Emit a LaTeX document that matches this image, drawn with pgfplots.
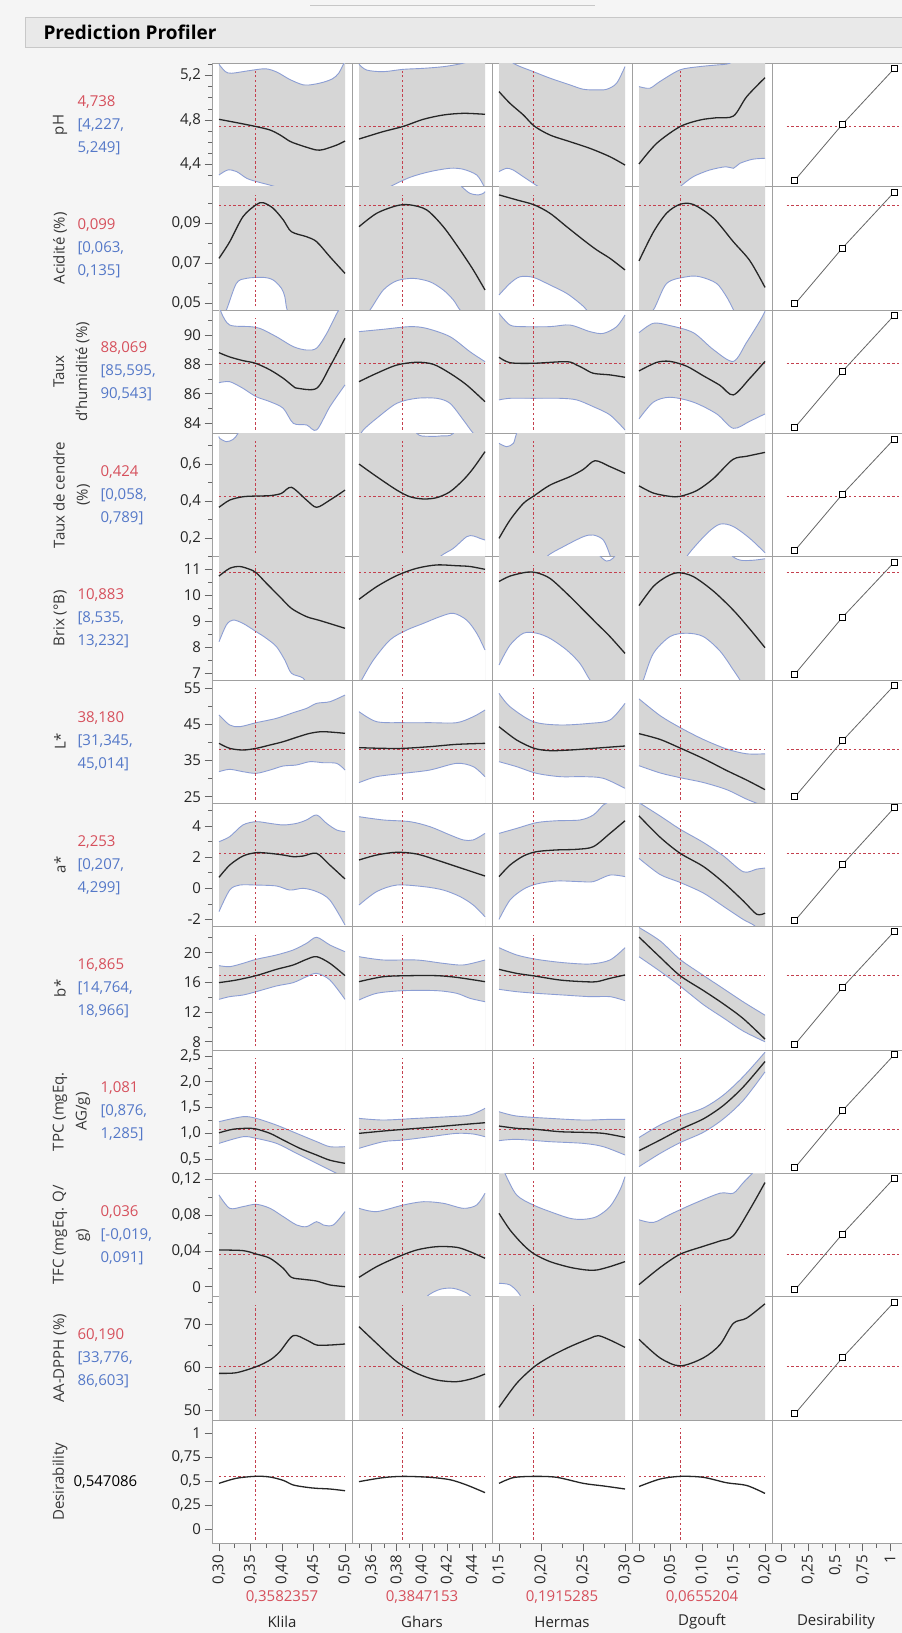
\documentclass[border=0pt]{standalone}
\usepackage{fontspec}
\setmainfont{Open Sans}
\usepackage{pgfplots}
\pgfplotsset{compat=1.18}
\definecolor{bg}{RGB}{245,245,245}
\definecolor{titlebg}{RGB}{233,233,233}
\definecolor{titleborder}{RGB}{200,200,200}
\definecolor{border}{RGB}{160,160,160}
\definecolor{bandgray}{RGB}{214,214,214}
\definecolor{bandedge}{RGB}{140,158,212}
\definecolor{xred}{RGB}{196,64,78}
\definecolor{valred}{RGB}{214,80,92}
\definecolor{valblue}{RGB}{84,120,200}
\definecolor{labelgray}{RGB}{55,55,55}
\newcommand\tk{\fontsize{15}{18}\selectfont}
\newcommand\lb{\fontsize{15}{23}\selectfont}
\newcommand\vl{\fontsize{15}{23}\selectfont}
\newcommand\ttl{\fontsize{19}{22}\selectfont\bfseries}
\tikzset{xh/.style={draw=xred, line width=0.9pt, dash pattern=on 2.4pt off 2.4pt}}
\pgfplotsset{
 cell/.style={scale only axis, width=140pt, height=123.33pt, anchor=north west,
  axis background/.style={fill=white},
  axis line style={draw=border, line width=0.9pt},
  xtick=\empty, ytick=\empty, clip=true,
  tick style={draw=black!60, line width=0.7pt},
  major tick length=8pt, minor tick length=4.5pt, tick align=outside,
  ticklabel style={font=\tk, text=black!85},
  ytick pos=left, xtick pos=bottom,
  xticklabel style={rotate=90, anchor=east}},
 band/.style={draw=bandedge, line width=0.9pt, smooth},
 mean/.style={draw=black!85, line width=1.3pt, smooth},
 dfun/.style={draw=black!60, line width=0.8pt, mark=square*, mark size=3pt, mark options={draw=black, fill=white, line width=1pt}},
 c1/.style={xmin=0.28968, xmax=0.51190},
 c2/.style={xmin=0.34484, xmax=0.45595},
 c3/.style={xmin=0.14226, xmax=0.30893},
 c4/.style={xmin=-0.01032, xmax=0.21190},
 c5/.style={xmin=-0.078, xmax=1.206},
 r1/.style={ymin=4.201, ymax=5.309},
 r2/.style={ymin=0.0467, ymax=0.1083},
 r3/.style={ymin=83.31, ymax=91.69},
 r4/.style={ymin=0.099, ymax=0.766},
 r5/.style={ymin=6.73, ymax=11.50},
 r6/.style={ymin=23.15, ymax=57.31},
 r7/.style={ymin=-2.456, ymax=5.445},
 r8/.style={ymin=6.88, ymax=23.5},
 r9/.style={ymin=0.226, ymax=2.613},
 r10/.style={ymin=-0.0112, ymax=0.1267},
 r11/.style={ymin=47.8, ymax=76.37},
 r12/.style={ymin=-0.15, ymax=1.139},
 y1/.style={ytick={4.4,4.8,5.2}, yticklabels={{4,4},{4,8},{5,2}}, minor ytick={4.3,4.5,4.6,4.7,4.9,5.0,5.1,5.3}},
 y2/.style={ytick={0.05,0.07,0.09}, yticklabels={{0,05},{0,07},{0,09}}, minor ytick={0.06,0.08,0.10}},
 y3/.style={ytick={84,86,88,90}, yticklabels={84,86,88,90}, minor ytick={85,87,89,91}},
 y4/.style={ytick={0.2,0.4,0.6}, yticklabels={{0,2},{0,4},{0,6}}, minor ytick={0.1,0.3,0.5,0.7}},
 y5/.style={ytick={7,8,9,10,11}, yticklabels={7,8,9,10,11}, minor ytick={7.5,8.5,9.5,10.5}},
 y6/.style={ytick={25,35,45,55}, yticklabels={25,35,45,55}, minor ytick={30,40,50}},
 y7/.style={ytick={-2,0,2,4}, yticklabels={-2,0,2,4}, minor ytick={-1,1,3,5}},
 y8/.style={ytick={8,12,16,20}, yticklabels={8,12,16,20}, minor ytick={10,14,18,22}},
 y9/.style={ytick={0.5,1,1.5,2,2.5}, yticklabels={{0,5},{1,0},{1,5},{2,0},{2,5}}, minor ytick={0.75,1.25,1.75,2.25}},
 y10/.style={ytick={0,0.04,0.08,0.12}, yticklabels={{0},{0,04},{0,08},{0,12}}, minor ytick={0.02,0.06,0.10}},
 y11/.style={ytick={50,60,70}, yticklabels={50,60,70}, minor ytick={55,65,75}},
 y12/.style={ytick={0,0.25,0.5,0.75,1}, yticklabels={{0},{0,25},{0,5},{0,75},{1}}},
 x1/.style={xtick={0.30,0.35,0.40,0.45,0.50}, xticklabels={{0,30},{0,35},{0,40},{0,45},{0,50}}, minor xtick={0.325,0.375,0.425,0.475}},
 x2/.style={xtick={0.36,0.38,0.40,0.42,0.44}, xticklabels={{0,36},{0,38},{0,40},{0,42},{0,44}}, minor xtick={0.35,0.37,0.39,0.41,0.43,0.45}},
 x3/.style={xtick={0.15,0.20,0.25,0.30}, xticklabels={{0,15},{0,20},{0,25},{0,30}}, minor xtick={0.175,0.225,0.275}},
 x4/.style={xtick={0,0.05,0.10,0.15,0.20}, xticklabels={{0},{0,05},{0,10},{0,15},{0,20}}, minor xtick={0.025,0.075,0.125,0.175}},
 x5/.style={xtick={0,0.25,0.5,0.75,1}, xticklabels={{0},{0,25},{0,5},{0,75},{1}}, minor xtick={0.125,0.375,0.625,0.875}},
}
% #1 = first x of the factor range, #2 = upper limit curve, #3 = lower limit curve
\newcommand\bnd[3]{%
 \addplot[fill=bandgray, draw=none, smooth] coordinates {#2} |- ({axis cs:#1,0}|-{rel axis cs:0,-1}) -- cycle;
 \addplot[fill=white, draw=none, smooth] coordinates {#3} |- ({axis cs:#1,0}|-{rel axis cs:0,-1}) -- cycle;
 \addplot[band] coordinates {#2};
 \addplot[band] coordinates {#3};}
\newcommand\mn[1]{\addplot[mean] coordinates {#1};}
\newcommand\vx[1]{\draw[xh] ({axis cs:#1,0}|-{rel axis cs:0,0.03}) -- ({axis cs:#1,0}|-{rel axis cs:0,0.935});}
\newcommand\hy[3]{\addplot[xh] coordinates {(#1,#3)(#2,#3)};}
\newcommand\des[2]{\hy{0.052}{1.25}{#1}\addplot[dfun] coordinates {#2};}
\begin{document}
\begin{tikzpicture}
\fill[bg] (0,0) rectangle (902pt,-1633pt);
\draw[black!22, line width=1pt] (310pt,-5pt) -- (595pt,-5pt);
\draw[fill=titlebg, draw=titleborder, line width=0.8pt] (25pt,-17pt) rectangle (906pt,-47pt);
\node[anchor=west, font=\ttl] at (40pt,-32pt) {Prediction Profiler};

% ---------- Row 1 pH
\begin{axis}[cell,c1,r1,y1,at={(212.5pt,-63.33pt)}]
\bnd{0.30}{(0.30,5.30)(0.31,5.235)(0.32,5.22)(0.35,5.245)(0.374,5.26)(0.392,5.23)(0.412,5.165)(0.434,5.115)(0.45,5.12)(0.466,5.14)(0.48,5.17)(0.49,5.22)(0.50,5.33)}{(0.30,4.306)(0.314,4.351)(0.328,4.336)(0.344,4.276)(0.36,4.246)(0.38,4.216)(0.396,4.186)(0.42,4.10)(0.45,4.05)(0.50,4.05)}
\hy{0.30}{0.50}{4.738}\vx{0.3582357}
\mn{(0.30,4.806)(0.328,4.776)(0.358,4.742)(0.381,4.71)(0.397,4.665)(0.412,4.61)(0.423,4.585)(0.439,4.555)(0.455,4.53)(0.466,4.535)(0.487,4.575)(0.50,4.611)}
\end{axis}
\begin{axis}[cell,c2,r1,at={(352.5pt,-63.33pt)}]
\bnd{0.35}{(0.35,5.30)(0.356,5.249)(0.369,5.234)(0.385,5.255)(0.401,5.264)(0.417,5.279)(0.43,5.303)(0.436,5.32)(0.45,5.40)}{(0.35,4.05)(0.36,4.10)(0.3746,4.20)(0.3905,4.285)(0.4063,4.336)(0.4222,4.366)(0.4328,4.357)(0.4434,4.306)(0.4487,4.216)(0.45,4.19)}
\hy{0.35}{0.45}{4.738}\vx{0.3847153}
\mn{(0.35,4.629)(0.369,4.695)(0.385,4.742)(0.401,4.806)(0.417,4.845)(0.433,4.86)(0.45,4.851)}
\end{axis}
\begin{axis}[cell,c3,r1,at={(492.5pt,-63.33pt)}]
\bnd{0.15}{(0.15,5.50)(0.16,5.40)(0.167,5.31)(0.191,5.234)(0.211,5.175)(0.2345,5.115)(0.2504,5.076)(0.2663,5.07)(0.2782,5.076)(0.290,5.13)(0.30,5.28)}{(0.15,4.336)(0.159,4.366)(0.167,4.35)(0.179,4.29)(0.191,4.23)(0.197,4.20)(0.21,4.10)(0.23,4.05)(0.30,4.05)}
\hy{0.15}{0.30}{4.738}\vx{0.1915285}
\mn{(0.15,5.055)(0.163,4.95)(0.179,4.845)(0.192,4.745)(0.2107,4.665)(0.2345,4.605)(0.2583,4.545)(0.2821,4.47)(0.30,4.395)}
\end{axis}
\begin{axis}[cell,c4,r1,at={(632.5pt,-63.33pt)}]
\bnd{0}{(0,5.10)(0.017,5.085)(0.033,5.145)(0.065,5.25)(0.097,5.28)(0.123,5.294)(0.144,5.31)(0.17,5.40)(0.20,5.45)}{(0,4.05)(0.04,4.08)(0.065,4.20)(0.086,4.29)(0.112,4.35)(0.138,4.38)(0.150,4.366)(0.160,4.41)(0.180,4.447)(0.20,4.456)}
\hy{0}{0.20}{4.738}\vx{0.0655204}
\mn{(0,4.405)(0.028,4.59)(0.065,4.74)(0.097,4.80)(0.123,4.82)(0.150,4.836)(0.171,5.01)(0.20,5.18)}
\end{axis}
\begin{axis}[cell,c5,r1,at={(772.5pt,-63.33pt)}]
\des{4.738}{(0.128,4.26)(0.562,4.76)(1.037,5.26)}
\end{axis}

% ---------- Row 2 Acidite
\begin{axis}[cell,c1,r2,y2,at={(212.5pt,-186.67pt)}]
\bnd{0.30}{(0.30,0.12)(0.50,0.12)}{(0.30,0.04)(0.3117,0.0467)(0.3276,0.06)(0.3435,0.0625)(0.37,0.063)(0.386,0.0617)(0.3992,0.0575)(0.4045,0.0533)(0.4082,0.0467)(0.42,0.04)(0.50,0.04)}
\hy{0.30}{0.50}{0.099}\vx{0.3582357}
\mn{(0.30,0.0725)(0.317,0.0808)(0.338,0.0933)(0.359,0.0993)(0.37,0.1003)(0.386,0.0975)(0.402,0.0917)(0.415,0.0858)(0.439,0.0833)(0.455,0.0808)(0.476,0.0733)(0.50,0.065)}
\end{axis}
\begin{axis}[cell,c2,r2,at={(352.5pt,-186.67pt)}]
\bnd{0.35}{(0.35,0.115)(0.42,0.115)(0.4315,0.1083)(0.438,0.105)(0.4447,0.1042)(0.4487,0.105)(0.45,0.1058)}{(0.35,0.04)(0.3587,0.0467)(0.3693,0.0567)(0.38,0.0613)(0.3931,0.0625)(0.4063,0.0608)(0.4169,0.0567)(0.4249,0.0517)(0.4302,0.0467)(0.44,0.04)(0.45,0.04)}
\hy{0.35}{0.45}{0.099}\vx{0.3847153}
\mn{(0.35,0.0883)(0.364,0.095)(0.38,0.0988)(0.3905,0.0992)(0.4037,0.0967)(0.4169,0.0883)(0.4302,0.0767)(0.4407,0.0667)(0.45,0.0567)}
\end{axis}
\begin{axis}[cell,c3,r2,at={(492.5pt,-186.67pt)}]
\bnd{0.15}{(0.15,0.12)(0.30,0.12)}{(0.15,0.0542)(0.1631,0.06)(0.175,0.0633)(0.1909,0.063)(0.2107,0.0592)(0.2306,0.055)(0.2464,0.05)(0.2544,0.0467)(0.265,0.04)(0.30,0.04)}
\hy{0.15}{0.30}{0.099}\vx{0.1915285}
\mn{(0.15,0.1042)(0.171,0.1017)(0.192,0.0992)(0.2107,0.095)(0.2306,0.0883)(0.2504,0.0817)(0.2663,0.0767)(0.2821,0.0725)(0.30,0.0667)}
\end{axis}
\begin{axis}[cell,c4,r2,at={(632.5pt,-186.67pt)}]
\bnd{0}{(0,0.12)(0.20,0.12)}{(0,0.04)(0.0227,0.0467)(0.044,0.06)(0.0757,0.0633)(0.0968,0.0633)(0.123,0.06)(0.139,0.0533)(0.15,0.0467)(0.16,0.04)(0.20,0.04)}
\hy{0}{0.20}{0.099}\vx{0.0655204}
\mn{(0,0.0712)(0.0228,0.0856)(0.0439,0.0951)(0.0651,0.0995)(0.0862,0.0994)(0.118,0.0927)(0.1497,0.0808)(0.1762,0.0712)(0.20,0.058)}
\end{axis}
\begin{axis}[cell,c5,r2,at={(772.5pt,-186.67pt)}]
\des{0.099}{(0.128,0.0497)(0.562,0.0776)(1.037,0.1055)}
\end{axis}

% ---------- Row 3 Taux d'humidite
\begin{axis}[cell,c1,r3,y3,at={(212.5pt,-310pt)}]
\bnd{0.30}{(0.30,92.2)(0.3037,91.5)(0.317,90.67)(0.349,90.56)(0.365,90.44)(0.391,89.88)(0.418,89.2)(0.439,88.97)(0.455,89.1)(0.471,90.1)(0.487,91.46)(0.492,91.8)(0.50,92.5)}{(0.30,86.75)(0.317,86.82)(0.338,86.37)(0.359,85.8)(0.381,85.46)(0.402,85.01)(0.418,83.99)(0.439,83.88)(0.455,83.54)(0.476,85.12)(0.50,86.6)}
\hy{0.30}{0.50}{88.069}\vx{0.3582357}
\mn{(0.30,88.79)(0.317,88.5)(0.338,88.25)(0.358,88.07)(0.381,87.62)(0.402,87.05)(0.418,86.5)(0.425,86.37)(0.455,86.37)(0.476,87.84)(0.50,89.77)}
\end{axis}
\begin{axis}[cell,c2,r3,at={(352.5pt,-310pt)}]
\bnd{0.35}{(0.35,90.22)(0.3693,90.38)(0.3905,90.56)(0.4037,90.44)(0.4222,89.88)(0.438,88.86)(0.45,88.18)}{(0.35,83.0)(0.3534,83.54)(0.364,84.33)(0.38,85.35)(0.3958,85.69)(0.4116,85.69)(0.4222,85.35)(0.4328,84.22)(0.4407,83.31)(0.45,82.5)}
\hy{0.35}{0.45}{88.069}\vx{0.3847153}
\mn{(0.35,86.82)(0.364,87.39)(0.38,87.95)(0.3958,88.14)(0.409,88.0)(0.4222,87.39)(0.4354,86.6)(0.45,85.46)}
\end{axis}
\begin{axis}[cell,c3,r3,at={(492.5pt,-310pt)}]
\bnd{0.15}{(0.15,91.46)(0.1631,90.67)(0.179,90.56)(0.2107,90.56)(0.2345,90.67)(0.2583,90.22)(0.2742,90.1)(0.2901,90.56)(0.30,91.35)}{(0.15,85.58)(0.1631,85.69)(0.1909,85.69)(0.2226,85.69)(0.2425,85.58)(0.2623,85.12)(0.2821,84.56)(0.30,83.54)}
\hy{0.15}{0.30}{88.069}\vx{0.1915285}
\mn{(0.15,88.48)(0.1631,88.11)(0.1909,88.07)(0.2306,88.18)(0.2425,87.95)(0.2504,87.73)(0.2623,87.39)(0.2821,87.28)(0.30,87.12)}
\end{axis}
\begin{axis}[cell,c4,r3,at={(632.5pt,-310pt)}]
\bnd{0}{(0,90.15)(0.0228,90.79)(0.0492,90.63)(0.0862,90.15)(0.118,89.0)(0.1497,88.2)(0.1709,89.5)(0.192,90.95)(0.20,91.6)}{(0,84.29)(0.0228,85.43)(0.0492,85.76)(0.0862,85.43)(0.1233,84.63)(0.1497,83.65)(0.1762,84.14)(0.20,84.63)}
\hy{0}{0.20}{88.069}\vx{0.0655204}
\mn{(0,87.55)(0.028,88.13)(0.0492,88.2)(0.0757,87.87)(0.1021,87.22)(0.1286,86.57)(0.1497,85.92)(0.1762,87.06)(0.20,88.2)}
\end{axis}
\begin{axis}[cell,c5,r3,at={(772.5pt,-310pt)}]
\des{88.069}{(0.128,83.71)(0.562,87.51)(1.037,91.32)}
\end{axis}

% ---------- Row 4 Taux de cendre
\begin{axis}[cell,c1,r4,y4,at={(212.5pt,-433.33pt)}]
\bnd{0.30}{(0.30,0.75)(0.301,0.739)(0.3117,0.721)(0.3223,0.733)(0.3302,0.766)(0.34,0.85)(0.50,0.9)}{(0.30,0.0)(0.50,0.0)}
\hy{0.30}{0.50}{0.424}\vx{0.3582357}
\mn{(0.30,0.366)(0.317,0.405)(0.338,0.423)(0.359,0.427)(0.381,0.429)(0.399,0.441)(0.415,0.474)(0.439,0.405)(0.455,0.366)(0.476,0.405)(0.50,0.459)}
\end{axis}
\begin{axis}[cell,c2,r4,at={(352.5pt,-433.33pt)}]
\bnd{0.35}{(0.35,0.95)(0.385,0.90)(0.3958,0.766)(0.405,0.75)(0.415,0.752)(0.4249,0.766)(0.435,0.90)(0.45,0.95)}{(0.35,0.0)(0.40,0.0)(0.4143,0.099)(0.4249,0.144)(0.4354,0.207)(0.4407,0.211)(0.446,0.198)(0.45,0.189)}
\hy{0.35}{0.45}{0.424}\vx{0.3847153}
\mn{(0.35,0.60)(0.364,0.532)(0.38,0.459)(0.3905,0.423)(0.4011,0.411)(0.4116,0.418)(0.4222,0.45)(0.4328,0.514)(0.4407,0.577)(0.45,0.667)}
\end{axis}
\begin{axis}[cell,c3,r4,at={(492.5pt,-433.33pt)}]
\bnd{0.15}{(0.15,0.712)(0.1591,0.694)(0.1671,0.712)(0.171,0.766)(0.18,0.85)(0.30,0.9)}{(0.15,0.0)(0.19,0.0)(0.2067,0.099)(0.2266,0.153)(0.2504,0.207)(0.2623,0.216)(0.2742,0.189)(0.2821,0.108)(0.29,0.0)(0.30,0.0)}
\hy{0.15}{0.30}{0.424}\vx{0.1915285}
\mn{(0.15,0.198)(0.1631,0.297)(0.179,0.387)(0.192,0.429)(0.2107,0.486)(0.2345,0.532)(0.2504,0.571)(0.2643,0.618)(0.2821,0.586)(0.30,0.55)}
\end{axis}
\begin{axis}[cell,c4,r4,at={(632.5pt,-433.33pt)}]
\bnd{0}{(0,0.9)(0.20,0.9)}{(0,0.0)(0.065,0.0)(0.0757,0.099)(0.1074,0.223)(0.1286,0.275)(0.1497,0.262)(0.1762,0.197)(0.20,0.12)}
\hy{0}{0.20}{0.424}\vx{0.0655204}
\mn{(0,0.482)(0.0228,0.443)(0.0492,0.425)(0.0651,0.425)(0.0915,0.456)(0.118,0.521)(0.1487,0.624)(0.1709,0.642)(0.20,0.663)}
\end{axis}
\begin{axis}[cell,c5,r4,at={(772.5pt,-433.33pt)}]
\des{0.424}{(0.128,0.133)(0.562,0.436)(1.037,0.735)}
\end{axis}

% ---------- Row 5 Brix
\begin{axis}[cell,c1,r5,y5,at={(212.5pt,-556.67pt)}]
\bnd{0.30}{(0.30,12.5)(0.50,12.5)}{(0.30,8.21)(0.3117,8.86)(0.3223,9.05)(0.338,8.92)(0.359,8.6)(0.3753,8.34)(0.3912,8.02)(0.4045,7.5)(0.415,6.99)(0.4337,6.8)(0.45,6.3)(0.50,6.3)}
\hy{0.30}{0.50}{10.883}\vx{0.3582357}
\mn{(0.30,10.75)(0.317,11.05)(0.3329,11.12)(0.3488,11.01)(0.359,10.88)(0.3753,10.47)(0.3965,9.95)(0.415,9.5)(0.439,9.18)(0.4602,9.03)(0.50,8.73)}
\end{axis}
\begin{axis}[cell,c2,r5,at={(352.5pt,-556.67pt)}]
\bnd{0.35}{(0.35,12.5)(0.45,12.5)}{(0.35,6.5)(0.3521,6.73)(0.3614,7.5)(0.3746,8.28)(0.3878,8.66)(0.4011,8.92)(0.4143,9.18)(0.4249,9.31)(0.4354,9.05)(0.4434,8.54)(0.45,7.89)}
\hy{0.35}{0.45}{10.883}\vx{0.3847153}
\mn{(0.35,9.85)(0.364,10.34)(0.38,10.77)(0.3958,11.05)(0.4116,11.18)(0.4275,11.15)(0.4381,11.12)(0.45,11.01)}
\end{axis}
\begin{axis}[cell,c3,r5,at={(492.5pt,-556.67pt)}]
\bnd{0.15}{(0.15,12.3)(0.25,12.3)(0.268,11.6)(0.278,11.33)(0.286,11.45)(0.293,11.8)(0.30,12.3)}{(0.15,7.31)(0.1631,8.08)(0.179,8.54)(0.1948,8.54)(0.2107,8.34)(0.2306,7.89)(0.2464,7.37)(0.2583,6.73)(0.27,6.3)(0.30,6.3)}
\hy{0.15}{0.30}{10.883}\vx{0.1915285}
\mn{(0.15,10.54)(0.1631,10.75)(0.1829,10.9)(0.1948,10.88)(0.2107,10.66)(0.2306,10.08)(0.2504,9.44)(0.2663,8.92)(0.2821,8.41)(0.30,7.76)}
\end{axis}
\begin{axis}[cell,c4,r5,at={(632.5pt,-556.67pt)}]
\bnd{0}{(0,12.3)(0.13,12.3)(0.145,11.6)(0.16,11.37)(0.18,11.36)(0.20,11.42)}{(0,6.3)(0.0069,6.73)(0.0228,7.76)(0.0492,8.41)(0.0757,8.54)(0.1021,8.41)(0.1286,7.85)(0.1497,7.12)(0.1603,6.73)(0.17,6.3)(0.20,6.3)}
\hy{0}{0.20}{10.883}\vx{0.0655204}
\mn{(0,9.61)(0.0228,10.35)(0.0439,10.73)(0.0624,10.88)(0.0862,10.73)(0.118,10.17)(0.1497,9.43)(0.1762,8.69)(0.20,7.98)}
\end{axis}
\begin{axis}[cell,c5,r5,at={(772.5pt,-556.67pt)}]
\des{10.883}{(0.128,6.96)(0.562,9.15)(1.037,11.28)}
\end{axis}

% ---------- Row 6 L*
\begin{axis}[cell,c1,r6,y6,at={(212.5pt,-680pt)}]
\bnd{0.30}{(0.30,47.62)(0.317,44.85)(0.3329,44.38)(0.359,45.49)(0.3912,46.69)(0.4178,48.26)(0.439,49.46)(0.455,50.85)(0.4761,51.31)(0.50,53.15)}{(0.30,31.92)(0.317,32.57)(0.338,31.92)(0.359,31.46)(0.381,32.38)(0.402,33.49)(0.423,33.77)(0.4443,34.69)(0.4655,34.4)(0.4867,34.23)(0.50,32.38)}
\hy{0.30}{0.50}{38.18}\vx{0.3582357}
\mn{(0.30,39.77)(0.317,38.38)(0.338,37.92)(0.359,38.38)(0.381,39.31)(0.402,40.23)(0.423,41.43)(0.4443,42.54)(0.4655,43.0)(0.50,42.54)}
\end{axis}
\begin{axis}[cell,c2,r6,at={(352.5pt,-680pt)}]
\bnd{0.35}{(0.35,48.54)(0.364,45.77)(0.3852,45.49)(0.4063,45.49)(0.4275,45.49)(0.4407,47.15)(0.45,49.0)}{(0.35,28.88)(0.364,30.54)(0.3852,31.46)(0.4063,32.38)(0.4275,34.23)(0.4407,33.31)(0.45,30.54)}
\hy{0.35}{0.45}{38.18}\vx{0.3847153}
\mn{(0.35,38.57)(0.3693,38.38)(0.3852,38.38)(0.4063,38.85)(0.4275,39.49)(0.45,39.77)}
\end{axis}
\begin{axis}[cell,c3,r6,at={(492.5pt,-680pt)}]
\bnd{0.15}{(0.15,53.62)(0.1631,49.92)(0.1909,45.77)(0.2226,44.85)(0.2583,45.31)(0.2821,46.23)(0.30,50.85)}{(0.15,34.69)(0.171,33.31)(0.1948,31.46)(0.2226,30.54)(0.2504,30.54)(0.2742,30.08)(0.30,27.31)}
\hy{0.15}{0.30}{38.18}\vx{0.1915285}
\mn{(0.15,44.38)(0.171,40.69)(0.192,38.38)(0.2107,37.74)(0.2345,37.92)(0.2623,38.38)(0.30,39.03)}
\end{axis}
\begin{axis}[cell,c4,r6,at={(632.5pt,-680pt)}]
\bnd{0}{(0,52.09)(0.0333,47.47)(0.0651,44.15)(0.1021,40.85)(0.1392,38.2)(0.1709,36.87)(0.20,36.87)}{(0,33.58)(0.0333,31.58)(0.0651,30.26)(0.1021,28.92)(0.1392,26.94)(0.1709,24.3)(0.20,22.3)}
\hy{0}{0.20}{38.18}\vx{0.0655204}
\mn{(0,42.45)(0.0333,40.86)(0.0651,38.48)(0.1021,35.55)(0.1392,32.24)(0.1709,29.59)(0.20,26.94)}
\end{axis}
\begin{axis}[cell,c5,r6,at={(772.5pt,-680pt)}]
\des{38.18}{(0.128,24.97)(0.562,40.43)(1.037,55.8)}
\end{axis}

% ---------- Row 7 a*
\begin{axis}[cell,c1,r7,y7,at={(212.5pt,-803.33pt)}]
\bnd{0.30}{(0.30,2.99)(0.317,3.31)(0.338,4.06)(0.359,4.27)(0.381,4.16)(0.402,4.06)(0.4231,4.16)(0.439,4.38)(0.455,4.7)(0.4708,4.16)(0.4867,3.74)(0.50,3.63)}{(0.30,-1.49)(0.317,-0.11)(0.3329,0.21)(0.359,0.21)(0.3912,0.15)(0.4125,-0.11)(0.4337,0.0)(0.455,-0.21)(0.476,-0.75)(0.50,-2.35)}
\hy{0.30}{0.50}{2.253}\vx{0.3582357}
\mn{(0.30,0.705)(0.317,1.49)(0.338,2.07)(0.359,2.285)(0.381,2.24)(0.402,2.135)(0.4178,2.03)(0.4337,2.07)(0.455,2.24)(0.476,1.49)(0.50,0.6)}
\end{axis}
\begin{axis}[cell,c2,r7,at={(352.5pt,-803.33pt)}]
\bnd{0.35}{(0.35,4.59)(0.3693,4.38)(0.3905,4.27)(0.4063,3.95)(0.4222,3.42)(0.4328,3.1)(0.4407,3.1)(0.45,3.52)}{(0.35,-1.07)(0.364,-0.21)(0.38,0.21)(0.4011,0.11)(0.4169,-0.11)(0.4302,-0.53)(0.4407,-1.07)(0.45,-1.82)}
\hy{0.35}{0.45}{2.253}\vx{0.3847153}
\mn{(0.35,1.815)(0.364,2.135)(0.38,2.31)(0.3958,2.2)(0.4116,1.815)(0.4275,1.39)(0.45,0.79)}
\end{axis}
\begin{axis}[cell,c3,r7,at={(492.5pt,-803.33pt)}]
\bnd{0.15}{(0.15,3.52)(0.171,3.84)(0.1948,4.21)(0.2187,4.33)(0.2464,4.38)(0.2623,4.7)(0.2742,5.34)(0.2821,5.6)(0.30,6.5)}{(0.15,-1.99)(0.1631,-0.75)(0.179,-0.06)(0.1948,0.28)(0.2187,0.47)(0.2464,0.43)(0.2623,0.43)(0.2821,0.85)(0.30,0.75)}
\hy{0.15}{0.30}{2.253}\vx{0.1915285}
\mn{(0.15,0.75)(0.1631,1.49)(0.179,2.07)(0.1948,2.35)(0.2187,2.46)(0.2425,2.5)(0.2623,2.67)(0.2821,3.52)(0.30,4.33)}
\end{axis}
\begin{axis}[cell,c4,r7,at={(632.5pt,-803.33pt)}]
\bnd{0}{(0,5.49)(0.0333,4.64)(0.0651,3.79)(0.1021,2.94)(0.1339,2.08)(0.1656,1.06)(0.1868,1.23)(0.20,1.30)}{(0,1.92)(0.0333,0.89)(0.0651,0.38)(0.1021,-0.30)(0.1339,-1.15)(0.1656,-2.0)(0.1815,-2.34)(0.20,-3.0)}
\hy{0}{0.20}{2.253}\vx{0.0655204}
\mn{(0,4.64)(0.0333,3.28)(0.0651,2.25)(0.1021,1.40)(0.1339,0.38)(0.1656,-0.81)(0.1868,-1.66)(0.20,-1.59)}
\end{axis}
\begin{axis}[cell,c5,r7,at={(772.5pt,-803.33pt)}]
\des{2.253}{(0.128,-2.07)(0.562,1.51)(1.037,5.15)}
\end{axis}

% ---------- Row 8 b*
\begin{axis}[cell,c1,r8,y8,at={(212.5pt,-926.67pt)}]
\bnd{0.30}{(0.30,18.25)(0.317,18.11)(0.338,18.56)(0.359,19.1)(0.3912,19.69)(0.4178,20.36)(0.439,21.26)(0.455,22.07)(0.4761,21.03)(0.50,20.13)}{(0.30,13.71)(0.317,14.07)(0.338,14.29)(0.359,14.74)(0.3912,15.51)(0.4178,15.96)(0.439,16.76)(0.455,17.21)(0.4761,16.31)(0.50,13.71)}
\hy{0.30}{0.50}{16.865}\vx{0.3582357}
\mn{(0.30,15.96)(0.3276,16.31)(0.359,16.9)(0.3912,17.75)(0.4178,18.34)(0.439,19.1)(0.455,19.46)(0.4761,18.56)(0.50,16.9)}
\end{axis}
\begin{axis}[cell,c2,r8,at={(352.5pt,-926.67pt)}]
\bnd{0.35}{(0.35,19.46)(0.3693,19.01)(0.3958,19.01)(0.4169,18.56)(0.4328,18.34)(0.45,19.01)}{(0.35,13.62)(0.364,14.52)(0.3852,14.88)(0.4116,14.88)(0.4275,14.52)(0.4381,13.84)(0.45,13.39)}
\hy{0.35}{0.45}{16.865}\vx{0.3847153}
\mn{(0.35,16.09)(0.3693,16.76)(0.3905,16.9)(0.4116,16.9)(0.4275,16.67)(0.45,16.09)}
\end{axis}
\begin{axis}[cell,c3,r8,at={(492.5pt,-926.67pt)}]
\bnd{0.15}{(0.15,20.67)(0.171,19.69)(0.1948,19.1)(0.2266,18.65)(0.2583,18.47)(0.2821,19.01)(0.30,20.67)}{(0.15,15.06)(0.171,14.74)(0.1948,14.52)(0.2266,14.29)(0.2583,14.07)(0.2821,14.07)(0.30,13.53)}
\hy{0.15}{0.30}{16.865}\vx{0.1915285}
\mn{(0.15,17.75)(0.171,17.21)(0.192,16.86)(0.2226,16.31)(0.2504,16.09)(0.2663,16.09)(0.2821,16.54)(0.30,16.99)}
\end{axis}
\begin{axis}[cell,c4,r8,at={(632.5pt,-926.67pt)}]
\bnd{0}{(0,23.39)(0.0333,21.6)(0.0651,19.09)(0.1021,16.94)(0.1339,15.15)(0.1656,13.36)(0.20,11.57)}{(0,19.45)(0.0333,17.5)(0.0651,15.51)(0.1021,13.0)(0.1339,11.21)(0.1656,9.42)(0.20,7.99)}
\hy{0}{0.20}{16.865}\vx{0.0655204}
\mn{(0,22.1)(0.0333,19.4)(0.0651,16.9)(0.1021,14.9)(0.1339,13.1)(0.1656,11.1)(0.20,8.35)}
\end{axis}
\begin{axis}[cell,c5,r8,at={(772.5pt,-926.67pt)}]
\des{16.865}{(0.128,7.63)(0.562,15.29)(1.037,22.82)}
\end{axis}

% ---------- Row 9 TPC
\begin{axis}[cell,c1,r9,y9,at={(212.5pt,-1050pt)}]
\bnd{0.30}{(0.30,1.226)(0.338,1.323)(0.359,1.29)(0.3912,1.16)(0.4231,1.0)(0.455,0.84)(0.476,0.742)(0.50,0.742)}{(0.30,0.806)(0.338,0.935)(0.359,0.903)(0.3912,0.806)(0.4231,0.613)(0.455,0.419)(0.476,0.29)(0.4867,0.226)(0.50,0.15)}
\hy{0.30}{0.50}{1.081}\vx{0.3582357}
\mn{(0.30,1.01)(0.3223,1.08)(0.3488,1.10)(0.359,1.085)(0.381,1.0)(0.402,0.87)(0.4284,0.71)(0.455,0.58)(0.476,0.48)(0.50,0.42)}
\end{axis}
\begin{axis}[cell,c2,r9,at={(352.5pt,-1050pt)}]
\bnd{0.35}{(0.35,1.29)(0.3693,1.258)(0.3958,1.29)(0.4222,1.323)(0.4381,1.355)(0.45,1.484)}{(0.35,0.71)(0.3693,0.839)(0.3852,0.871)(0.4063,0.935)(0.4275,1.0)(0.4407,0.987)(0.45,0.935)}
\hy{0.35}{0.45}{1.081}\vx{0.3847153}
\mn{(0.35,1.0)(0.3693,1.045)(0.3852,1.077)(0.4063,1.116)(0.4275,1.161)(0.45,1.206)}
\end{axis}
\begin{axis}[cell,c3,r9,at={(492.5pt,-1050pt)}]
\bnd{0.15}{(0.15,1.419)(0.171,1.335)(0.2107,1.29)(0.2504,1.258)(0.2821,1.271)(0.30,1.271)}{(0.15,0.858)(0.171,0.884)(0.2107,0.839)(0.2504,0.806)(0.2742,0.742)(0.30,0.581)}
\hy{0.15}{0.30}{1.081}\vx{0.1915285}
\mn{(0.15,1.142)(0.171,1.097)(0.192,1.08)(0.2226,1.032)(0.2504,1.019)(0.2742,1.0)(0.30,0.923)}
\end{axis}
\begin{axis}[cell,c4,r9,at={(632.5pt,-1050pt)}]
\bnd{0}{(0,0.92)(0.0333,1.16)(0.0651,1.33)(0.1021,1.49)(0.1339,1.74)(0.1656,2.10)(0.20,2.57)}{(0,0.355)(0.0333,0.61)(0.0651,0.82)(0.1021,1.02)(0.1339,1.28)(0.1656,1.64)(0.20,2.19)}
\hy{0}{0.20}{1.081}\vx{0.0655204}
\mn{(0,0.665)(0.0333,0.87)(0.0651,1.075)(0.1021,1.28)(0.1339,1.54)(0.1656,1.90)(0.20,2.39)}
\end{axis}
\begin{axis}[cell,c5,r9,at={(772.5pt,-1050pt)}]
\des{1.081}{(0.128,0.335)(0.562,1.435)(1.037,2.52)}
\end{axis}

% ---------- Row 10 TFC
\begin{axis}[cell,c1,r10,y10,at={(212.5pt,-1173.33pt)}]
\bnd{0.30}{(0.30,0.1025)(0.317,0.0876)(0.338,0.0895)(0.359,0.0921)(0.381,0.0876)(0.402,0.0783)(0.4231,0.069)(0.439,0.0671)(0.455,0.0727)(0.4655,0.069)(0.4814,0.069)(0.50,0.0839)}{(0.30,-0.03)(0.50,-0.03)}
\hy{0.30}{0.50}{0.036}\vx{0.3582357}
\mn{(0.30,0.041)(0.338,0.0403)(0.359,0.0365)(0.381,0.0317)(0.402,0.0205)(0.415,0.0104)(0.4337,0.0082)(0.455,0.0063)(0.476,0.0019)(0.50,0.0)}
\end{axis}
\begin{axis}[cell,c2,r10,at={(352.5pt,-1173.33pt)}]
\bnd{0.35}{(0.35,0.0876)(0.364,0.0839)(0.3852,0.0913)(0.4011,0.095)(0.4169,0.0932)(0.4328,0.0876)(0.4434,0.0913)(0.45,0.1044)}{(0.35,-0.03)(0.395,-0.03)(0.4037,-0.0112)(0.4143,-0.003)(0.4249,-0.0019)(0.4354,-0.007)(0.44,-0.013)(0.45,-0.03)}
\hy{0.35}{0.45}{0.036}\vx{0.3847153}
\mn{(0.35,0.0104)(0.364,0.0224)(0.38,0.0328)(0.3958,0.041)(0.4116,0.0447)(0.4275,0.044)(0.4381,0.0391)(0.45,0.0317)}
\end{axis}
\begin{axis}[cell,c3,r10,at={(492.5pt,-1173.33pt)}]
\bnd{0.15}{(0.15,0.145)(0.1571,0.1267)(0.171,0.1025)(0.1909,0.0913)(0.2107,0.0839)(0.2345,0.0764)(0.2504,0.0753)(0.2663,0.0783)(0.2821,0.0895)(0.294,0.108)(0.30,0.123)}{(0.15,0.0037)(0.1631,0.0019)(0.175,-0.0093)(0.185,-0.03)(0.30,-0.03)}
\hy{0.15}{0.30}{0.036}\vx{0.1915285}
\mn{(0.15,0.082)(0.1631,0.0634)(0.179,0.0466)(0.192,0.0365)(0.2107,0.028)(0.2345,0.0216)(0.2544,0.0186)(0.2663,0.0186)(0.2821,0.0224)(0.30,0.028)}
\end{axis}
\begin{axis}[cell,c4,r10,at={(632.5pt,-1173.33pt)}]
\bnd{0}{(0,0.0748)(0.0228,0.0718)(0.0492,0.0807)(0.0862,0.0926)(0.1286,0.1045)(0.1497,0.1045)(0.1656,0.1164)(0.1815,0.128)(0.20,0.145)}{(0,-0.03)(0.20,-0.03)}
\hy{0}{0.20}{0.036}\vx{0.0655204}
\mn{(0,0.0023)(0.0333,0.0213)(0.0651,0.0362)(0.1021,0.0451)(0.1286,0.0511)(0.1497,0.057)(0.1762,0.0867)(0.20,0.1164)}
\end{axis}
\begin{axis}[cell,c5,r10,at={(772.5pt,-1173.33pt)}]
\des{0.036}{(0.128,-0.0036)(0.562,0.0587)(1.037,0.1212)}
\end{axis}

% ---------- Row 11 AA-DPPH
\begin{axis}[cell,c1,r11,y11,at={(212.5pt,-1296.67pt)}]
\bnd{0.30}{(0.30,90)(0.50,90)}{(0.30,30)(0.50,30)}
\hy{0.30}{0.50}{60.19}\vx{0.3582357}
\mn{(0.30,58.61)(0.3276,58.76)(0.359,60.15)(0.381,61.7)(0.3965,63.63)(0.4178,67.34)(0.439,66.33)(0.455,65.17)(0.476,65.17)(0.50,65.41)}
\end{axis}
\begin{axis}[cell,c2,r11,at={(352.5pt,-1296.67pt)}]
\bnd{0.35}{(0.35,90)(0.45,90)}{(0.35,30)(0.45,30)}
\hy{0.35}{0.45}{60.19}\vx{0.3847153}
\mn{(0.35,69.42)(0.364,65.56)(0.38,61.31)(0.3958,58.61)(0.4116,57.07)(0.4275,56.68)(0.4407,57.45)(0.45,58.46)}
\end{axis}
\begin{axis}[cell,c3,r11,at={(492.5pt,-1296.67pt)}]
\bnd{0.15}{(0.15,90)(0.30,90)}{(0.15,30)(0.30,30)}
\hy{0.15}{0.30}{60.19}\vx{0.1915285}
\mn{(0.15,50.73)(0.171,56.29)(0.192,60.15)(0.2107,62.47)(0.2345,64.79)(0.2583,66.72)(0.2683,67.34)(0.2821,66.33)(0.30,64.63)}
\end{axis}
\begin{axis}[cell,c4,r11,at={(632.5pt,-1296.67pt)}]
\bnd{0}{(0,90)(0.20,90)}{(0,30)(0.20,30)}
\hy{0}{0.20}{60.19}\vx{0.0655204}
\mn{(0,66.49)(0.0333,62.19)(0.0651,60.34)(0.1021,62.19)(0.1286,65.27)(0.1497,70.19)(0.1709,71.41)(0.20,74.73)}
\end{axis}
\begin{axis}[cell,c5,r11,at={(772.5pt,-1296.67pt)}]
\des{60.19}{(0.128,49.25)(0.562,62.19)(1.037,75.1)}
\end{axis}

% ---------- Row 12 Desirability
\begin{axis}[cell,c1,r12,y12,x1,at={(212.5pt,-1420pt)}]
\hy{0.30}{0.50}{0.547}\vx{0.3582357}
\mn{(0.30,0.477)(0.3276,0.53)(0.359,0.551)(0.381,0.543)(0.402,0.508)(0.4178,0.46)(0.439,0.436)(0.455,0.425)(0.476,0.418)(0.50,0.40)}
\end{axis}
\begin{axis}[cell,c2,r12,x2,at={(352.5pt,-1420pt)}]
\hy{0.35}{0.45}{0.547}\vx{0.3847153}
\mn{(0.35,0.495)(0.3693,0.537)(0.3852,0.55)(0.4063,0.54)(0.4222,0.515)(0.4354,0.46)(0.45,0.38)}
\end{axis}
\begin{axis}[cell,c3,r12,x3,at={(492.5pt,-1420pt)}]
\hy{0.15}{0.30}{0.547}\vx{0.1915285}
\mn{(0.15,0.477)(0.1671,0.537)(0.192,0.55)(0.2187,0.54)(0.2504,0.477)(0.2742,0.45)(0.30,0.418)}
\end{axis}
\begin{axis}[cell,c4,r12,x4,at={(632.5pt,-1420pt)}]
\hy{0}{0.20}{0.547}\vx{0.0655204}
\mn{(0,0.444)(0.0333,0.522)(0.0651,0.55)(0.1021,0.54)(0.1392,0.483)(0.1709,0.455)(0.20,0.372)}
\end{axis}
\begin{axis}[cell,c5,r12,x5,at={(772.5pt,-1420pt)}]
\end{axis}

% ---------- Row labels and current values
\tikzset{rl/.style={rotate=90, font=\lb, text=labelgray, align=center},
         vv/.style={anchor=west, font=\vl, align=left}}
\node[rl] at (60pt,-125pt) {pH};
\node[vv] at (74pt,-125pt) {\textcolor{valred}{4,738}\\\textcolor{valblue}{[4,227,}\\\textcolor{valblue}{5,249]}};
\node[rl] at (60pt,-248.33pt) {Acidité (\%)};
\node[vv] at (74pt,-248.33pt) {\textcolor{valred}{0,099}\\\textcolor{valblue}{[0,063,}\\\textcolor{valblue}{0,135]}};
\node[rl] at (71.5pt,-371.67pt) {Taux\\d'humidité (\%)};
\node[vv] at (97pt,-371.67pt) {\textcolor{valred}{88,069}\\\textcolor{valblue}{[85,595,}\\\textcolor{valblue}{90,543]}};
\node[rl] at (71.5pt,-495pt) {Taux de cendre\\(\%)};
\node[vv] at (97pt,-495pt) {\textcolor{valred}{0,424}\\\textcolor{valblue}{[0,058,}\\\textcolor{valblue}{0,789]}};
\node[rl] at (60pt,-618.33pt) {Brix (°B)};
\node[vv] at (74pt,-618.33pt) {\textcolor{valred}{10,883}\\\textcolor{valblue}{[8,535,}\\\textcolor{valblue}{13,232]}};
\node[rl] at (60pt,-741.67pt) {L*};
\node[vv] at (74pt,-741.67pt) {\textcolor{valred}{38,180}\\\textcolor{valblue}{[31,345,}\\\textcolor{valblue}{45,014]}};
\node[rl] at (60pt,-865pt) {a*};
\node[vv] at (74pt,-865pt) {\textcolor{valred}{2,253}\\\textcolor{valblue}{[0,207,}\\\textcolor{valblue}{4,299]}};
\node[rl] at (60pt,-988.33pt) {b*};
\node[vv] at (74pt,-988.33pt) {\textcolor{valred}{16,865}\\\textcolor{valblue}{[14,764,}\\\textcolor{valblue}{18,966]}};
\node[rl] at (71.5pt,-1111.67pt) {TPC (mgEq.\\AG/g)};
\node[vv] at (97pt,-1111.67pt) {\textcolor{valred}{1,081}\\\textcolor{valblue}{[0,876,}\\\textcolor{valblue}{1,285]}};
\node[rl] at (71.5pt,-1235pt) {TFC (mgEq. Q/\\g)};
\node[vv] at (97pt,-1235pt) {\textcolor{valred}{0,036}\\\textcolor{valblue}{[-0,019,}\\\textcolor{valblue}{0,091]}};
\node[rl] at (60pt,-1358.33pt) {AA-DPPH (\%)};
\node[vv] at (74pt,-1358.33pt) {\textcolor{valred}{60,190}\\\textcolor{valblue}{[33,776,}\\\textcolor{valblue}{86,603]}};
\node[rl] at (60pt,-1481.67pt) {Desirability};
\node[vv] at (70pt,-1481.67pt) {0,547086};

% ---------- Bottom factor values and names
\node[font=\tk, text=valred] at (282pt,-1597pt) {0,3582357};
\node[font=\tk, text=valred] at (422pt,-1597pt) {0,3847153};
\node[font=\tk, text=valred] at (562pt,-1597pt) {0,1915285};
\node[font=\tk, text=valred] at (702pt,-1597pt) {0,0655204};
\node[font=\tk, text=black!85] at (282pt,-1622pt) {Klila};
\node[font=\tk, text=black!85] at (422pt,-1622pt) {Ghars};
\node[font=\tk, text=black!85] at (562pt,-1622pt) {Hermas};
\node[font=\tk, text=black!85] at (702pt,-1622pt) {Dgouft};
\node[font=\tk, text=black!85] at (836pt,-1622pt) {Desirability};
\pgfresetboundingbox
\useasboundingbox (0,0) rectangle (902pt,-1633pt);
\end{tikzpicture}
\end{document}
